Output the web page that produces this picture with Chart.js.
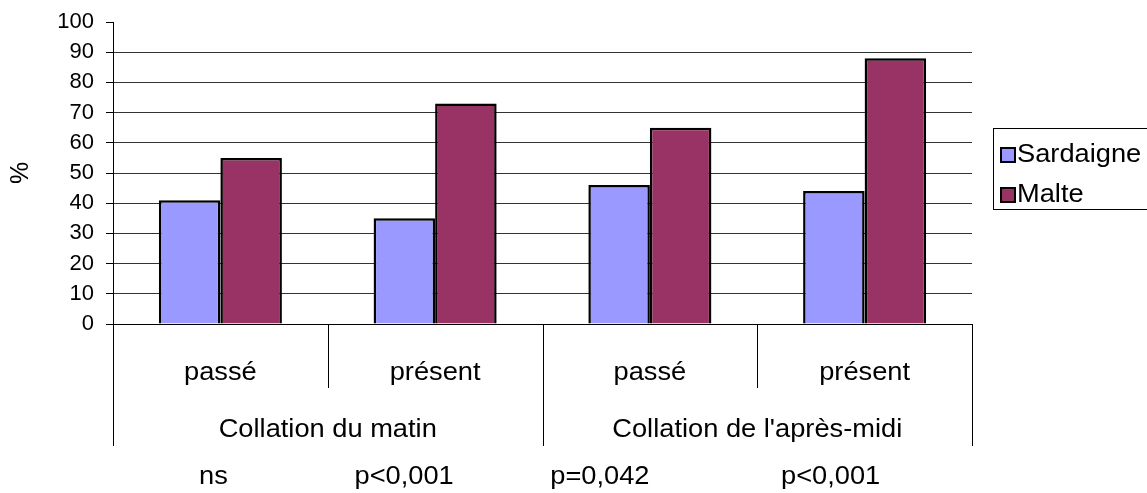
<!DOCTYPE html>
<html>
<head>
<meta charset="utf-8">
<script src="https://cdn.jsdelivr.net/npm/chart.js@4"></script>
<style>
html,body{margin:0;padding:0;background:#fff;}
#wrap{width:1147px;height:493px;position:relative;}
</style>
</head>
<body>
<div id="wrap"><canvas id="c" width="1147" height="493"></canvas></div>
<script>
const categories = ["passé", "présent", "passé", "présent"];
const groups = ["Collation du matin", "Collation de l'après-midi"];
const pValues = ["ns", "p<0,001", "p=0,042", "p<0,001"];
const sardaigne = [41, 35, 46, 44];
const malte = [55, 73, 65, 88];
const seriesNames = ["Sardaigne", "Malte"];
const yTitle = "%";

const FONT = "'Liberation Sans', Arial, sans-serif";
const FS = 25;      // label font size
const SX = 1.09;    // horizontal stretch of the reference text
const TICK_FS = 22;

function stretchedText(ctx, text, x, y, align) {
  ctx.save();
  ctx.translate(x, y);
  ctx.scale(SX, 1);
  ctx.textAlign = align;
  ctx.fillText(text, 0, 0);
  ctx.restore();
}

const extras = {
  id: 'extras',
  afterDraw(chart) {
    const ctx = chart.ctx;
    const xs = chart.scales.x;
    const a = chart.chartArea;
    const step = (a.right - a.left) / categories.length;
    ctx.save();
    ctx.strokeStyle = '#000';
    ctx.lineWidth = 1;
    for (let i = 0; i <= categories.length; i++) {
      const x = Math.round(a.left + i * step) + 0.5;
      const outer = (i % 2 === 0);
      ctx.beginPath();
      ctx.moveTo(x, a.bottom);
      ctx.lineTo(x, a.bottom + (outer ? 122 : 64));
      ctx.stroke();
    }
    ctx.fillStyle = '#000';
    ctx.font = FS + 'px ' + FONT;
    ctx.textBaseline = 'middle';
    categories.forEach((c, i) => {
      stretchedText(ctx, c, xs.getPixelForValue(i), a.bottom + 49, 'center');
    });
    groups.forEach((g, j) => {
      const x = (xs.getPixelForValue(2 * j) + xs.getPixelForValue(2 * j + 1)) / 2;
      stretchedText(ctx, g, x, a.bottom + 106, 'center');
    });
    const pOffsets = [-7, -31, -50, -34];
    pValues.forEach((p, i) => {
      stretchedText(ctx, p, xs.getPixelForValue(i) + pOffsets[i], a.bottom + 153, 'center');
    });
    // legend
    const lx = 993, ly = 128, lh = 81;
    ctx.lineWidth = 1;
    ctx.strokeRect(lx + 0.5, ly + 0.5, 200, lh);
    chart.data.datasets.forEach((ds, k) => {
      const cy = ly + 27 + k * 40;
      ctx.fillStyle = ds.backgroundColor;
      ctx.fillRect(lx + 8, cy - 7, 14, 14);
      ctx.lineWidth = 2;
      ctx.strokeRect(lx + 8, cy - 7, 14, 14);
      ctx.fillStyle = '#000';
      stretchedText(ctx, ds.label, lx + 24, cy, 'left');
    });
    ctx.restore();
  }
};

new Chart(document.getElementById('c'), {
  type: 'bar',
  data: {
    labels: categories,
    datasets: [
      { label: seriesNames[0], data: sardaigne, backgroundColor: '#9999FF', borderColor: '#000', borderWidth: 2.5 },
      { label: seriesNames[1], data: malte, backgroundColor: '#993366', borderColor: '#000', borderWidth: 2.5 }
    ]
  },
  options: {
    responsive: false,
    animation: false,
    devicePixelRatio: 1,
    layout: { padding: { left: 0, right: 175, top: 22, bottom: 0 } },
    plugins: { legend: { display: false }, tooltip: { enabled: false } },
    datasets: { bar: { categoryPercentage: 0.573, barPercentage: 1.0 } },
    scales: {
      x: {
        ticks: { display: false },
        grid: { display: false },
        border: { display: true, color: '#000', width: 1 },
        afterFit(s) { s.height = 169; s.paddingLeft = 0; s.paddingRight = 0; }
      },
      y: {
        min: 0, max: 100,
        ticks: { stepSize: 10, color: '#000', font: { family: FONT, size: TICK_FS }, padding: 12 },
        grid: {
          color: (c) => (c.tick && c.tick.value === 100) ? 'rgba(0,0,0,0)' : '#333',
          tickColor: '#000', tickLength: 7, drawTicks: true
        },
        border: { display: true, color: '#000', width: 1 },
        title: { display: true, text: yTitle, color: '#000', font: { family: FONT, size: FS }, padding: { top: 6, bottom: 0 } },
        afterFit(s) { s.width = 113; s.paddingTop = 0; s.paddingBottom = 0; }
      }
    }
  },
  plugins: [extras]
});
</script>
</body>
</html>
